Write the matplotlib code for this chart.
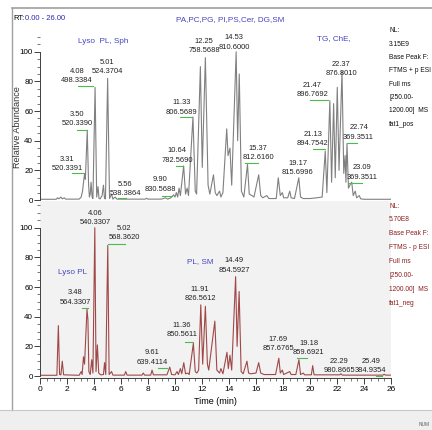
import numpy as np
import matplotlib
matplotlib.use('Agg')
import matplotlib.pyplot as plt
from matplotlib.ticker import MultipleLocator

plt.rcParams['font.family'] = ['Liberation Sans Narrow', 'Liberation Sans', 'DejaVu Sans']

# positive mode trace (time [min], relative abundance) - vertices
pos_t = [0, 1.2, 1.3, 1.4, 1.55, 1.65, 1.8, 1.9, 2.9, 3.05, 3.15, 3.25, 3.31, 3.36, 3.5, 3.6,
         3.66, 3.72, 3.78, 3.86, 3.92, 4.08, 4.2, 4.3, 4.37, 4.45, 4.6, 4.7, 4.78, 4.85, 5.01,
         5.15, 5.3, 5.4, 5.56, 5.7, 7.8, 7.9, 8.0, 9.0, 9.3, 9.45, 9.7, 9.9, 10.0, 10.1, 10.2,
         10.3, 10.4, 10.64, 10.78, 10.9, 11.0, 11.33, 11.5, 11.6, 11.88, 12.02, 12.25, 12.45,
         12.58, 12.85, 12.98, 13.1, 13.3, 13.4, 13.55, 13.83, 13.93, 14.07, 14.2, 14.53, 14.64,
         14.76, 14.92, 15.1, 15.37, 15.5, 15.7, 15.85, 16.2, 16.35, 16.5, 16.8, 16.95, 17.5,
         17.65, 17.8, 17.95, 18.05, 18.35, 18.5, 18.6, 18.85, 19.17, 19.3, 19.5, 20.0, 20.5,
         20.9, 21.13, 21.25, 21.47, 21.6, 21.75, 21.87, 22.02, 22.15, 22.37, 22.5, 22.6, 22.66,
         22.74, 22.85, 22.95, 23.09, 23.2, 23.35, 23.45, 23.65, 23.75, 24.0, 26.0]
pos_i = [0.5, 0.5, 1.5, 0.8, 2, 0.8, 1.5, 0.6, 0.6, 2, 6, 14, 18, 14, 47, 10,
         2, 4, 12, 2, 1, 76, 2, 9, 1, 0.8, 3, 10, 1, 0.8, 82,
         1, 4, 0.6, 2, 0.6, 0.6, 1.2, 0.6, 0.6, 1.5, 0.6, 1.5, 3.5, 2, 5, 2,
         8, 3, 23, 4, 8, 3, 56, 6, 4, 90, 22, 96, 10,
         4, 17, 5, 3, 6, 2, 5, 48, 30, 35, 10, 100, 40,
         85, 6, 2, 24, 4, 3, 2, 17, 3, 1.5, 3, 1, 1,
         15, 3, 5, 1.5, 1.5, 6, 1.5, 1, 15, 2, 1, 1, 1.5,
         2, 33, 5, 67, 12, 65, 15, 76, 20, 87, 18, 30, 12,
         38, 8, 10, 12, 3, 6, 1.5, 3, 0.8, 0.5, 0.5]

# negative mode trace
neg_t = [0, 1.25, 1.36, 1.45, 1.55, 1.65, 1.75, 2.9, 3.05, 3.12, 3.22, 3.3, 3.48, 3.55, 3.62,
         3.72, 3.83, 3.92, 4.06, 4.15, 4.25, 4.35, 4.5, 4.7, 4.78, 4.87, 5.02, 5.12, 5.3, 5.4,
         6.25, 6.35, 6.45, 7.55, 7.65, 7.75, 8.2, 8.3, 8.4, 9.4, 9.61, 9.75, 10.0, 10.15, 10.25,
         10.4, 10.5, 10.65, 10.78, 10.95, 11.05, 11.36, 11.5, 11.62, 11.75, 11.91, 12.05, 12.25,
         12.4, 12.5, 12.95, 13.1, 13.3, 13.4, 13.55, 13.85, 13.95, 14.07, 14.2, 14.49, 14.6,
         14.75, 14.9, 15.05, 15.33, 15.45, 15.6, 16.0, 16.2, 16.35, 16.6, 17.45, 17.69, 17.8,
         17.95, 18.05, 18.5, 18.6, 18.95, 19.18, 19.3, 19.5, 19.6, 20.1, 20.2, 20.3, 22.2,
         22.29, 22.4, 25.4, 25.49, 25.6, 26.0]
neg_i = [0.5, 0.5, 34, 1, 0.8, 10, 0.8, 0.5, 3, 1, 13, 8, 45, 38, 3,
         1, 11, 2, 100, 3, 21, 2, 0.8, 1, 9, 1, 88, 1, 3, 0.6,
         0.6, 3, 0.6, 0.6, 2, 0.6, 0.6, 4, 0.8, 0.8, 6, 1, 0.8, 3, 1,
         5, 1.5, 9, 1.5, 2, 1, 22, 3, 2, 4, 48, 8, 47,
         8, 4, 37, 4, 2, 5, 1.5, 16, 5, 14, 4, 67, 20,
         57, 3, 1.5, 10, 2, 1.5, 2, 9, 2, 1, 1, 12, 2,
         4, 1, 3, 1, 1, 11, 1, 2, 0.8, 0.8, 7, 0.8, 0.8,
         1.5, 0.6, 0.6, 1.2, 0.6, 0.6]

# peak labels: (rt, m/z)
pos_rt = ['3.31', '3.50', '4.08', '5.01', '5.56', '9.90', '10.64', '11.33', '12.25',
          '14.53', '15.37', '19.17', '21.13', '21.47', '22.37', '22.74', '23.09']
pos_mz = ['520.3391', '520.3390', '498.3384', '524.3704', '538.3864', '830.5688', '782.5690',
          '806.5689', '758.5688', '810.6000', '812.6160', '815.6996', '894.7542', '896.7692',
          '876.8010', '369.3511', '369.3511']
neg_rt = ['3.48', '4.06', '5.02', '9.61', '11.36', '11.91', '14.49', '17.69', '19.18',
          '22.29', '25.49']
neg_mz = ['564.3307', '540.3307', '568.3620', '639.4114', '850.5611', '826.5612', '854.5927',
          '857.6765', '859.6921', '980.8665', '384.9354']

pos_groups = ['Lyso  PL, Sph', 'PA,PC,PG, PI,PS,Cer, DG,SM', 'TG, ChE,']
neg_groups = ['Lyso PL', 'PL, SM']

pos_info = ['NL:', '3.15E9', 'Base Peak F:', 'FTMS + p ESI', 'Full ms', '[250.00-',
            '1200.00]  MS', 'fat1_pos']
neg_info = ['NL:', '5.70E8', 'Base Peak F:', 'FTMS - p ESI', 'Full ms', '[250.00-',
            '1200.00]  MS', 'fat1_neg']

# label placement (text x, text bottom y, underline x0, x1, y) in data units
pos_lab_xy = [(2.0, 19), (2.74, 49), (2.74, 78), (4.96, 84), (6.3, 2), (8.89, 5), (10.15, 24.5),
              (10.5, 57), (12.15, 98.6), (14.37, 100.7), (16.15, 26), (19.1, 16), (20.2, 35.5),
              (20.15, 68.5), (22.3, 83), (23.6, 40), (23.85, 13)]
pos_lines = [(2.37, 3.15, 18), (2.74, 3.45, 47), (2.8, 3.95, 77), None, (5.8, 6.37, 1.2),
             (9.0, 9.8, 2.7), (10.07, 10.6, 23), (10.4, 11.26, 56), None, None,
             (15.2, 16.15, 25), None, (20.2, 21.1, 34.7), (20.0, 21.33, 67.3), None,
             (22.74, 23.5, 38.5), (22.9, 23.85, 11.5)]
neg_lab_xy = [(2.6, 47.5), (4.07, 101), (6.22, 91), (8.3, 7), (10.5, 25.5), (11.85, 50),
              (14.37, 69), (17.63, 16), (19.9, 13.5), (22.15, 1.4), (24.5, 1.4)]
neg_lines = [(3.1, 3.55, 46), None, (5.04, 6.3, 89), (8.74, 9.4, 5.4), (10.74, 11.33, 23),
             None, None, None, (19.0, 19.8, 12), None, (24.9, 25.3, 0.3)]

fig = plt.figure(figsize=(4.32, 4.30), dpi=100)
W, H = 432.0, 430.0

# window decoration
fig.patches.append(plt.Rectangle((0, 0), 1, 20 / H, transform=fig.transFigure,
                                 facecolor='#efefef', edgecolor='none'))
fig.add_artist(plt.Line2D([12 / W, 1], [1 - 8 / H, 1 - 8 / H], color='#a0a0a0', lw=1.2))
fig.add_artist(plt.Line2D([12 / W, 12 / W], [1 - 8 / H, 20 / H], color='#a0a0a0', lw=1.0))
fig.add_artist(plt.Line2D([0, 1], [20 / H, 20 / H], color='#c8c8c8', lw=0.8))
fig.text(424 / W, 1 - 425 / H, 'NUM', fontsize=3.5, color='#606060', ha='center', va='center')

left, width = 40 / W, 351 / W
ax1 = fig.add_axes([left, (H - 201.5) / H, width, (201.5 - 31) / H])
ax2 = fig.add_axes([left, (H - 377.5) / H, width, (377.5 - 201) / H])

ax1.plot(pos_t, pos_i, color='#808080', lw=0.8)
ax2.plot(neg_t, neg_i, color='#a04848', lw=0.8)

for ax, top in ((ax1, 114), (ax2, 118)):
    ax.set_xlim(0, 26)
    ax.set_ylim(-1, top)
    for s in ('top', 'right'):
        ax.spines[s].set_visible(False)
    ax.spines['left'].set_bounds(0, 100)
    ax.spines['left'].set_color('#404040')
    ax.spines['left'].set_linewidth(0.7)
    ax.yaxis.set_minor_locator(MultipleLocator(5))
    ax.set_yticks([0, 20, 40, 60, 80, 100])
    ax.tick_params(axis='y', which='major', length=4, width=0.7, labelsize=5.8, pad=1,
                   color='#404040')
    ax.tick_params(axis='y', which='minor', length=2, width=0.5, color='#404040')

ax1.set_facecolor('white')
ax1.spines['bottom'].set_visible(False)
ax1.set_xticks([])
ax2.set_facecolor('#f2f2f2')
ax2.spines['bottom'].set_bounds(0, 26)
ax2.spines['bottom'].set_color('#404040')
ax2.spines['bottom'].set_linewidth(0.7)
ax2.set_xticks(np.arange(0, 27, 2))
ax2.xaxis.set_minor_locator(MultipleLocator(0.5))
ax2.tick_params(axis='x', which='major', length=4, width=0.7, labelsize=6.0, pad=2,
                color='#404040')
ax2.tick_params(axis='x', which='minor', length=2, width=0.5, color='#404040')
ax2.set_xlabel('Time (min)', fontsize=6.5, labelpad=3)
fig.text(18 / W, 1 - 127 / H, 'Relative Abundance', fontsize=6.6, rotation=90,
         ha='center', va='center', color='#303030')

def label_peaks(ax, rts, mzs, xy, lines):
    for rt, mz, (x, y), ln in zip(rts, mzs, xy, lines):
        ax.text(x, y, rt + '\n' + mz, fontsize=5.4, ha='center', va='bottom',
                linespacing=1.45, color='#202020')
        if ln is not None:
            ax.plot([ln[0], ln[1]], [ln[2], ln[2]], color='#4cbb4c', lw=0.8)

label_peaks(ax1, pos_rt, pos_mz, pos_lab_xy, pos_lines)
label_peaks(ax2, neg_rt, neg_mz, neg_lab_xy, neg_lines)

grp_color = '#4646c0'
for txt, (x, y) in zip(pos_groups, [(4.67, 107), (14.1, 122), (21.8, 109)]):
    ax1.text(x, y, txt, fontsize=5.9, color=grp_color, ha='center', va='center')
for txt, (x, y) in zip(neg_groups, [(2.4, 70), (11.85, 77)]):
    ax2.text(x, y, txt, fontsize=5.9, color=grp_color, ha='center', va='center')

fig.text(13 / W, 1 - 19 / H, 'RT:', fontsize=5.5, ha='left', va='center')
fig.text(25 / W, 1 - 19 / H, '0.00 - 26.00', fontsize=5.5, ha='left', va='center',
         color='#2a2ab0')

for k, s in enumerate(pos_info):
    fig.text(389 / W, 1 - (31 + 13.3 * k) / H, s, fontsize=4.8, ha='left', va='center',
             color='#101010')
for k, s in enumerate(neg_info):
    fig.text(389 / W, 1 - (206 + 13.9 * k) / H, s, fontsize=4.8, ha='left', va='center',
             color='#8b1e1e')

fig.savefig('out.png', dpi=100)
